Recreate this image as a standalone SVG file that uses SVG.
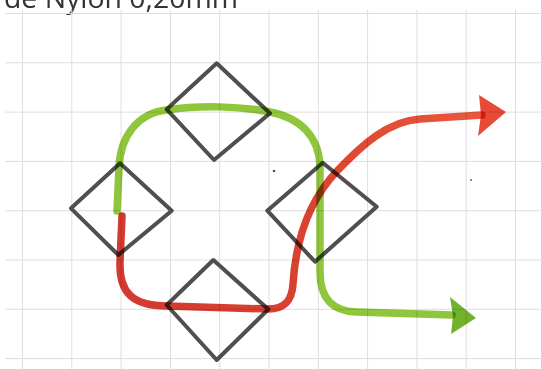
<svg xmlns="http://www.w3.org/2000/svg" width="541" height="369" viewBox="0 0 541 369">
  <defs>
    <linearGradient id="redInk" gradientUnits="userSpaceOnUse" x1="120" y1="0" x2="500" y2="0">
      <stop offset="0" stop-color="#d23a32"/>
      <stop offset="0.45" stop-color="#d9412f"/>
      <stop offset="1" stop-color="#ec5a3d"/>
    </linearGradient>
  </defs>
  <style>
    .grid line { stroke: #dedede; stroke-width: 1; }
    .diamond { fill: none; stroke: #504e4f; stroke-width: 4; stroke-linejoin: round; stroke-linecap: round; }
    .ink { fill: none; stroke-width: 7.5; stroke-linecap: round; stroke-linejoin: round; mix-blend-mode: multiply; }
    .green { stroke: #8fc63c; }
    .red { stroke: url(#redInk); }
    .head-green { fill: #72b12c; mix-blend-mode: multiply; }
    .head-red { fill: #e84a35; mix-blend-mode: multiply; }
    .title { font-family: "Open Sans", "DejaVu Sans", sans-serif; font-size: 28px; fill: #333333; }
  </style>
  <rect x="0" y="0" width="541" height="369" fill="#ffffff"/>
  <text class="title" x="4" y="8" textLength="234" lengthAdjust="spacingAndGlyphs">de Nylon 0,20mm</text>
  <g class="grid">
    <line x1="5" y1="13.5" x2="541" y2="13.5"/>
    <line x1="5" y1="62.8" x2="541" y2="62.8"/>
    <line x1="5" y1="112.1" x2="541" y2="112.1"/>
    <line x1="5" y1="161.4" x2="541" y2="161.4"/>
    <line x1="5" y1="210.7" x2="541" y2="210.7"/>
    <line x1="5" y1="260" x2="541" y2="260"/>
    <line x1="5" y1="309.3" x2="541" y2="309.3"/>
    <line x1="5" y1="358.6" x2="541" y2="358.6"/>
    <line x1="22.5" y1="10" x2="22.5" y2="369"/>
    <line x1="71.8" y1="10" x2="71.8" y2="369"/>
    <line x1="121.1" y1="10" x2="121.1" y2="369"/>
    <line x1="170.4" y1="10" x2="170.4" y2="369"/>
    <line x1="219.7" y1="10" x2="219.7" y2="369"/>
    <line x1="269" y1="10" x2="269" y2="369"/>
    <line x1="318.3" y1="10" x2="318.3" y2="369"/>
    <line x1="367.6" y1="10" x2="367.6" y2="369"/>
    <line x1="416.9" y1="10" x2="416.9" y2="369"/>
    <line x1="466.2" y1="10" x2="466.2" y2="369"/>
    <line x1="515.5" y1="10" x2="515.5" y2="369"/>
  </g>
  <circle cx="274" cy="171" r="1.3" fill="#555"/>
  <circle cx="471" cy="180" r="1" fill="#666"/>
  <g id="diamond-top">
    <path class="diamond" d="M216.7 63.3 L270 113.3 L214 160 L166.7 109.3 Z"/>
  </g>
  <g id="diamond-left">
    <path class="diamond" d="M120 163.3 L171.7 210.7 L118.3 255 L71 208.3 Z"/>
  </g>
  <g id="diamond-right">
    <path class="diamond" d="M322.7 162.7 L376.7 206.7 L315 261.7 L267.3 210.7 Z"/>
  </g>
  <g id="diamond-bottom">
    <path class="diamond" d="M213.3 260 L268.3 309.3 L216.7 360 L166.7 305 Z"/>
  </g>
  <g id="connectors">
    <path class="ink green" d="M117 211 L119 168 C120 136 138 113 167 110 C200 105 240 106 270 112 C302 118 319 138 320 166 L320 272 C320 300 334 311 356 312 L452 315"/>
    <polygon class="head-green" points="450,297 476,318 451,334 453,316"/>
    <path class="ink red" d="M122 216 L120 262 C119 292 132 306 167 306 L268 309 C286 309 292 299 293 284 C296 236 312 197 338 170 C362 145 388 121 420 119 L482 115"/>
    <polygon class="head-red" points="479,95 506,112 478,136 481,115"/>
  </g>
</svg>
